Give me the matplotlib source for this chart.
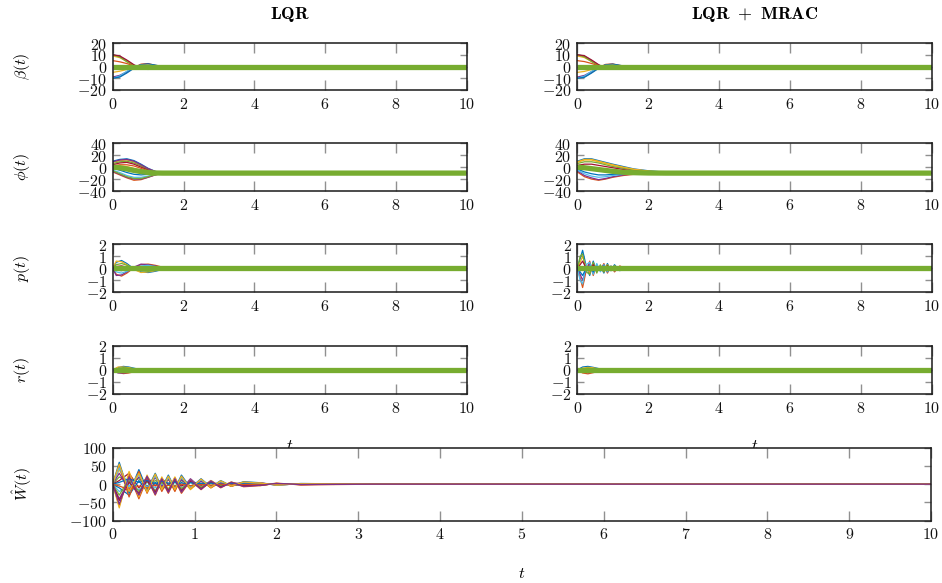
"""Closed-loop trajectories: LQR vs LQR + MRAC, plus adaptive weights."""

import matplotlib

matplotlib.use("Agg")
import matplotlib.pyplot as plt

plt.rcParams["mathtext.fontset"] = "cm"
plt.rcParams["font.family"] = "serif"
plt.rcParams["font.serif"] = ["DejaVu Serif"]

# MATLAB default line order
COLORS = ["#0072BD", "#D95319", "#EDB120", "#7E2F8E", "#77AC30", "#4DBEEE", "#A2142F"]
REF_COLOR = "#77AC30"

# ---- beta(t) ----
beta_t = [0, 0.2, 0.4, 0.6, 0.8, 1.0, 1.2, 1.4, 10]
beta_lqr = [
    [10, 8.5, 5, 1, -2, -2.5, -1, 0, 0],
    [-10, -8.5, -5, -1, 2, 2.5, 1, 0, 0],
    [9, 7.5, 4.5, 0.8, -1.6, -2, -0.8, 0, 0],
    [-9, -7.5, -4.5, -0.8, 1.6, 2, 0.8, 0, 0],
    [10, 8, 4, 0.5, -1.2, -1.5, -0.6, 0, 0],
    [-10, -8, -4, -0.5, 1.2, 1.5, 0.6, 0, 0],
    [10, 9, 5.5, 1.5, -1.5, -2.2, -1.2, 0, 0],
    [-10, -9, -5.5, -1.5, 1.5, 2.2, 1.2, 0, 0],
    [5, 4, 2.5, 0.5, -1, -1.2, -0.5, 0, 0],
    [-5, -4, -2.5, -0.5, 1, 1.2, 0.5, 0, 0],
]
beta_mrac = [
    [10, 8.8, 5.2, 1.2, -1.8, -2.2, -0.9, 0, 0],
    [-10, -8.8, -5.2, -1.2, 1.8, 2.2, 0.9, 0, 0],
    [9, 7.6, 4.4, 0.9, -1.5, -1.8, -0.7, 0, 0],
    [-9, -7.6, -4.4, -0.9, 1.5, 1.8, 0.7, 0, 0],
    [10, 8.2, 4.2, 0.6, -1.1, -1.4, -0.5, 0, 0],
    [-10, -8.2, -4.2, -0.6, 1.1, 1.4, 0.5, 0, 0],
    [10, 9.2, 5.6, 1.6, -1.4, -2.0, -1.0, 0, 0],
    [-10, -9.2, -5.6, -1.6, 1.4, 2.0, 1.0, 0, 0],
    [5, 4.2, 2.6, 0.6, -0.9, -1.1, -0.4, 0, 0],
    [-5, -4.2, -2.6, -0.6, 0.9, 1.1, 0.4, 0, 0],
]
beta_ref = [0, 0, 0, 0, 0, 0, 0, 0, 0]

# ---- phi(t) ----
phi_lqr_t = [0, 0.2, 0.4, 0.6, 0.8, 1.0, 1.2, 1.4, 1.6, 10]
phi_lqr = [
    [10, 13, 14, 11, 5, -2, -7, -9.5, -10, -10],
    [-8, -13, -18, -22, -21, -17, -13, -10.5, -10, -10],
    [8, 11, 12, 9, 3, -3, -7.5, -9.5, -10, -10],
    [-7, -12, -17, -20, -20, -17, -13, -10.5, -10, -10],
    [6, 9, 10, 7, 2, -4, -8, -9.8, -10, -10],
    [-5, -9, -14, -17, -17, -15, -12, -10.5, -10, -10],
    [4, 7, 8, 5, 0, -5, -8.5, -10, -10, -10],
    [-2, -5, -9, -12, -13, -12, -11, -10.3, -10, -10],
    [2, 4, 4, 2, -2, -6, -9, -10, -10, -10],
    [0, 2, 1, -2, -5, -8, -9.5, -10, -10, -10],
    [9, 12, 13, 10, 4, -2.5, -7.2, -9.6, -10, -10],
    [-6, -11, -16, -19, -19, -16, -12.5, -10.4, -10, -10],
]
phi_lqr_ref = [0, -1, -3, -5.5, -7.5, -9, -9.8, -10, -10, -10]

phi_mrac_t = [0, 0.2, 0.4, 0.6, 0.8, 1.0, 1.3, 1.6, 2.0, 2.5, 3.0, 10]
phi_mrac = [
    [10, 14, 14, 11, 8, 5, 1, -3, -6, -8.5, -10, -10],
    [-8, -16, -20, -22, -20, -17, -14, -12, -10.8, -10.2, -10, -10],
    [8, 12, 12, 9, 6, 3, -1, -4, -7, -9, -10, -10],
    [-6, -14, -18, -21, -19, -16, -13, -11.5, -10.5, -10, -10, -10],
    [6, 9, 9, 7, 4, 1, -2, -5, -8, -9.5, -10, -10],
    [-5, -11, -15, -17, -16, -14, -12, -11, -10.4, -10, -10, -10],
    [3, 5, 5, 3, 1, -1, -4, -6.5, -8.5, -9.8, -10, -10],
    [-3, -8, -11, -13, -13, -12, -11, -10.5, -10.2, -10, -10, -10],
    [0, -2, -4, -6, -7, -8, -9, -9.6, -10, -10, -10, -10],
    [9, 13, 13, 10, 7, 4, 0, -3.5, -6.5, -8.8, -10, -10],
]
phi_mrac_ref = [0, -1, -2.5, -4, -5.5, -7, -8.5, -9.3, -9.8, -10, -10, -10]

# ---- p(t) ----
p_lqr_t = [0, 0.1, 0.25, 0.4, 0.6, 0.8, 1.0, 1.2, 1.4, 1.7, 10]
p_lqr = [
    [0, 0.5, 0.65, 0.4, -0.05, -0.3, -0.35, -0.25, -0.1, 0, 0],
    [0, -0.5, -0.65, -0.4, 0.05, 0.3, 0.35, 0.25, 0.1, 0, 0],
    [0, 0.6, 0.55, 0.3, -0.1, -0.35, -0.3, -0.2, -0.05, 0, 0],
    [0, -0.6, -0.55, -0.3, 0.1, 0.35, 0.3, 0.2, 0.05, 0, 0],
    [0, 0.3, 0.4, 0.25, 0, -0.2, -0.25, -0.15, -0.05, 0, 0],
    [0, -0.3, -0.4, -0.25, 0, 0.2, 0.25, 0.15, 0.05, 0, 0],
    [0, 0.15, 0.2, 0.1, 0, -0.1, -0.1, -0.08, 0, 0, 0],
    [0, -0.15, -0.2, -0.1, 0, 0.1, 0.1, 0.08, 0, 0, 0],
]
p_ref = [0, 0]
p_ref_t = [0, 10]

p_mrac_t = [0, 0.08, 0.15, 0.25, 0.35, 0.45, 0.55, 0.65, 0.75, 0.85, 0.95, 1.05, 1.2, 1.4, 1.6, 1.9, 10]
p_mrac = [
    [0, 0.8, 1.5, 0.2, -0.6, 0.6, -0.3, 0.2, -0.4, 0.4, -0.2, 0.3, -0.2, 0.1, -0.05, 0, 0],
    [0, -0.8, -1.6, -0.2, 0.6, -0.6, 0.3, -0.2, 0.4, -0.4, 0.2, -0.3, 0.2, -0.1, 0.05, 0, 0],
    [0, 0.5, 1.0, 0.1, -0.4, 0.4, -0.2, 0.1, -0.3, 0.3, -0.1, 0.2, -0.1, 0.05, 0, 0, 0],
    [0, -0.5, -1.0, -0.1, 0.4, -0.4, 0.2, -0.1, 0.3, -0.3, 0.1, -0.2, 0.1, -0.05, 0, 0, 0],
    [0, 1.0, 1.2, -0.3, -0.5, 0.5, -0.4, 0.3, -0.3, 0.3, -0.2, 0.2, -0.1, 0.05, 0, 0, 0],
    [0, -1.0, -1.3, 0.3, 0.5, -0.5, 0.4, -0.3, 0.3, -0.3, 0.2, -0.2, 0.1, -0.05, 0, 0, 0],
    [0, 0.3, 0.6, 0, -0.2, 0.3, -0.1, 0.1, -0.2, 0.2, -0.1, 0.1, -0.05, 0.03, 0, 0, 0],
    [0, -0.3, -0.6, 0, 0.2, -0.3, 0.1, -0.1, 0.2, -0.2, 0.1, -0.1, 0.05, -0.03, 0, 0, 0],
]

# ---- r(t) ----
r_t = [0, 0.15, 0.3, 0.45, 0.6, 0.75, 0.9, 10]
r_lqr = [
    [0, 0.2, 0.3, 0.25, 0.15, 0.05, 0, 0],
    [0, -0.2, -0.3, -0.25, -0.15, -0.05, 0, 0],
    [0, 0.25, 0.25, 0.2, 0.1, 0.02, 0, 0],
    [0, -0.25, -0.25, -0.2, -0.1, -0.02, 0, 0],
    [0, 0.1, 0.2, 0.15, 0.1, 0.03, 0, 0],
    [0, -0.1, -0.2, -0.15, -0.1, -0.03, 0, 0],
]
r_mrac = [
    [0, 0.25, 0.3, 0.22, 0.12, 0.04, 0, 0],
    [0, -0.25, -0.32, -0.22, -0.12, -0.04, 0, 0],
    [0, 0.15, 0.22, 0.18, 0.08, 0.02, 0, 0],
    [0, -0.15, -0.22, -0.18, -0.08, -0.02, 0, 0],
    [0, 0.08, 0.15, 0.1, 0.05, 0.01, 0, 0],
    [0, -0.08, -0.15, -0.1, -0.05, -0.01, 0, 0],
]

# ---- W_hat(t) ----
w_t = [0, 0.08, 0.2, 0.32, 0.42, 0.52, 0.6, 0.68, 0.76, 0.84, 0.95, 1.08,
       1.2, 1.32, 1.45, 1.6, 1.8, 2.0, 2.3, 2.7, 3.2, 10]
w_hat = [
    [0, 60, -25, 40, -15, 30, -10, 25, -12, 25, -10, 15, -8, 10, -5, 7, 4, -3, 2, 1, 0, 0],
    [0, -60, 25, -40, 15, -30, 10, -25, 12, -25, 10, -15, 8, -10, 5, -7, -4, 3, -2, -1, 0, 0],
    [0, 40, -10, 30, -20, 20, -15, 20, -18, 15, -15, 10, -10, 8, -6, 5, -4, 2, -1, 0.5, 0, 0],
    [0, -40, 10, -30, 20, -20, 15, -20, 18, -15, 15, -10, 10, -8, 6, -5, 4, -2, 1, -0.5, 0, 0],
    [0, 20, 5, 15, -5, 10, 0, 12, -5, 10, -5, 8, -3, 5, -2, 3, -2, 1, 0, 0, 0, 0],
    [0, -20, -5, -15, 5, -10, 0, -12, 5, -10, 5, -8, 3, -5, 2, -3, 2, -1, 0, 0, 0, 0],
    [0, 10, 30, -10, 20, -5, 15, 0, 10, -5, 8, -3, 5, -2, 3, 2, -1, 1, 0, 0, 0, 0],
    [0, -10, -30, 10, -20, 5, -15, 0, -10, 5, -8, 3, -5, 2, -3, -2, 1, -1, 0, 0, 0, 0],
    [0, 50, -35, 35, -25, 25, -20, 15, -20, 20, -12, 12, -10, 6, -6, 5, -3, 2, -1, 0.5, 0, 0],
    [0, -65, 35, -35, 25, -25, 20, -15, 20, -20, 12, -12, 10, -6, 6, -5, 3, -2, 1, -0.5, 0, 0],
    [0, 30, -15, 20, -8, 18, -6, 14, -8, 12, -6, 8, -5, 4, -3, 3, -2, 1, 0, 0, 0, 0],
    [0, -30, 15, -20, 8, -18, 6, -14, 8, -12, 6, -8, 5, -4, 3, -3, 2, -1, 0, 0, 0, 0],
    [0, 45, -5, 25, -10, 22, -12, 18, -10, 18, -8, 12, -6, 7, -4, 4, 2, -1, 1, 0, 0, 0],
    [0, -45, 5, -25, 10, -22, 12, -18, 10, -18, 8, -12, 6, -7, 4, -4, -2, 1, -1, 0, 0, 0],
    [0, 5, 15, 5, 10, 2, 8, 3, 6, 0, 4, 1, 3, 0, 2, 1, 0, 0, 0, 0, 0, 0],
    [0, -5, -15, -5, -10, -2, -8, -3, -6, 0, -4, -1, -3, 0, -2, -1, 0, 0, 0, 0, 0, 0],
    [0, 55, -20, 30, -22, 28, -15, 22, -15, 22, -12, 14, -9, 9, -5, 6, 3, -2, 1, 0.5, 0, 0],
    [0, -55, 20, -30, 22, -28, 15, -22, 15, -22, 12, -14, 9, -9, 5, -6, -3, 2, -1, -0.5, 0, 0],
]

row_labels = [r"$\beta(t)$", r"$\phi(t)$", r"$p(t)$", r"$r(t)$"]
row_yticks = [[-20, -10, 0, 10, 20], [-40, -20, 0, 20, 40], [-2, -1, 0, 1, 2], [-2, -1, 0, 1, 2]]
row_ylims = [(-20, 20), (-40, 40), (-2, 2), (-2, 2)]

W, H = 942, 583
FS = 11.5


def add_px_axes(fig, x0, y0, x1, y1):
    return fig.add_axes([x0 / W, 1 - y1 / H, (x1 - x0) / W, (y1 - y0) / H])


def style_axes(ax, xticks, yticks, xlim, ylim):
    ax.set_xlim(*xlim)
    ax.set_ylim(*ylim)
    ax.set_xticks(xticks)
    ax.set_yticks(yticks)
    ax.set_xticklabels([f"${v}$" for v in xticks])
    ax.set_yticklabels([f"${v}$" for v in yticks])
    ax.tick_params(axis="both", direction="in", top=True, right=True, color="#909090",
                   width=1.0, labelsize=FS, labelcolor="#111111")
    ax.tick_params(axis="x", length=7, pad=4)
    ax.tick_params(axis="y", length=5, pad=4)
    for spine in ax.spines.values():
        spine.set_linewidth(1.1)
        spine.set_color("#1a1a1a")


def draw(ax, t, curves, ref_t=None, ref=None):
    for i, c in enumerate(curves):
        ax.plot(t, c, color=COLORS[i % len(COLORS)], lw=0.9)
    if ref is not None:
        ax.plot(ref_t, ref, color=REF_COLOR, lw=3.8, solid_capstyle="butt")


fig = plt.figure(figsize=(W / 100, H / 100), dpi=100)

cols = [(112.7, 466.7), (577.3, 931.7)]
rows = [(43, 90), (143.3, 191), (244.3, 292.3), (346, 394)]

panels = [
    [(beta_t, beta_lqr, beta_t, beta_ref), (beta_t, beta_mrac, beta_t, beta_ref)],
    [(phi_lqr_t, phi_lqr, phi_lqr_t, phi_lqr_ref), (phi_mrac_t, phi_mrac, phi_mrac_t, phi_mrac_ref)],
    [(p_lqr_t, p_lqr, p_ref_t, p_ref), (p_mrac_t, p_mrac, p_ref_t, p_ref)],
    [(r_t, r_lqr, p_ref_t, p_ref), (r_t, r_mrac, p_ref_t, p_ref)],
]

xt = [0, 2, 4, 6, 8, 10]
for ri, (y0, y1) in enumerate(rows):
    for ci, (x0, x1) in enumerate(cols):
        ax = add_px_axes(fig, x0, y0, x1, y1)
        t, curves, rt, ref = panels[ri][ci]
        draw(ax, t, curves, rt, ref)
        style_axes(ax, xt, row_yticks[ri], (0, 10), row_ylims[ri])
        if ri == 3:
            # time label mostly hidden behind the weights panel, as in the original
            ax.set_xlabel(r"$t$", fontsize=FS)
            ax.xaxis.set_label_coords(0.5, -0.9)
    fig.text(22 / W, 1 - (y0 + y1) / 2 / H, row_labels[ri], rotation=90,
             ha="center", va="center", fontsize=FS)

fig.text(289.7 / W, 1 - 15 / H, r"$\mathbf{LQR}$", ha="center", va="center", fontsize=13)
fig.text(754.5 / W, 1 - 15 / H, r"$\mathbf{LQR\ +\ MRAC}$", ha="center", va="center", fontsize=13)

# weights panel spans both columns (added last so it hides the row-4 x labels)
axw = add_px_axes(fig, 112.7, 447.7, 931, 520.7)
draw(axw, w_t, w_hat)
style_axes(axw, list(range(11)), [-100, -50, 0, 50, 100], (0, 10), (-100, 100))
fig.text(22 / W, 1 - 484.2 / H, r"$\hat{W}(t)$", rotation=90, ha="center", va="center", fontsize=FS)
fig.text(522 / W, 1 - 573 / H, r"$t$", ha="center", va="center", fontsize=FS)

fig.savefig("out.png", dpi=100)
